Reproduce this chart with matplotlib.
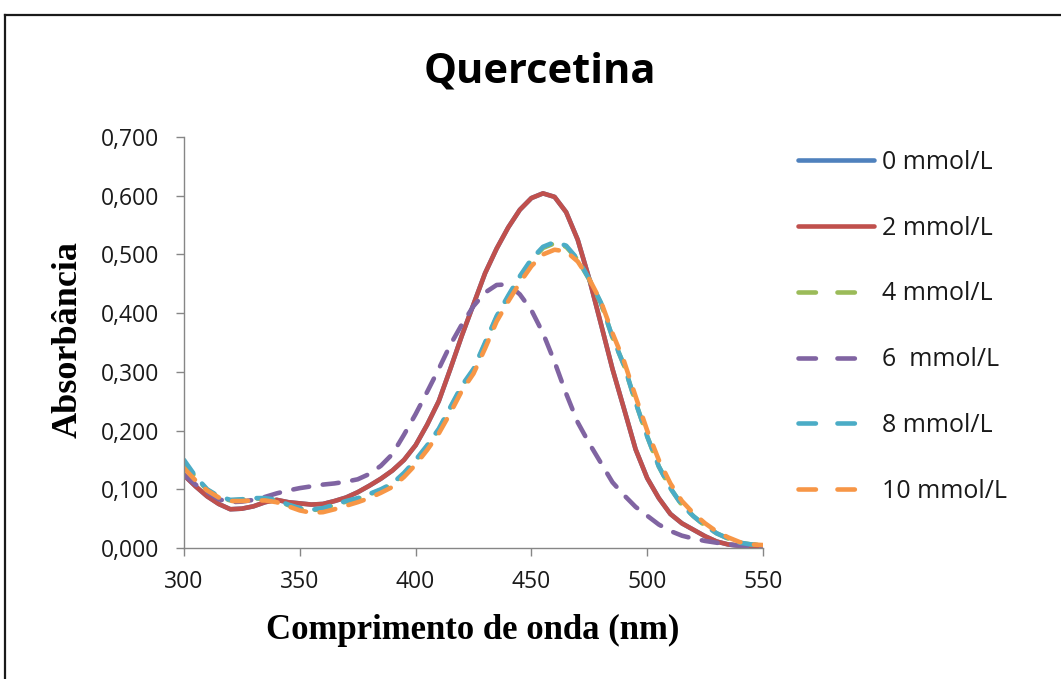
import matplotlib
matplotlib.use("Agg")
import matplotlib.pyplot as plt
from matplotlib.lines import Line2D
from matplotlib.ticker import FuncFormatter, MultipleLocator

wavelength = list(range(300, 551, 5))

abs_2 = [0.124, 0.105, 0.088, 0.075, 0.066, 0.067, 0.071, 0.078, 0.082, 0.078,
         0.076, 0.074, 0.075, 0.080, 0.086, 0.095, 0.106, 0.118, 0.132, 0.150,
         0.175, 0.210, 0.250, 0.305, 0.362, 0.415, 0.468, 0.510, 0.546, 0.576,
         0.596, 0.604, 0.598, 0.572, 0.525, 0.458, 0.382, 0.305, 0.237, 0.168,
         0.119, 0.085, 0.058, 0.042, 0.031, 0.020, 0.011, 0.006, 0.004, 0.003,
         0.003]
abs_0 = list(abs_2)

abs_6 = [0.125, 0.108, 0.095, 0.083, 0.078, 0.079, 0.082, 0.087, 0.093, 0.098,
         0.102, 0.105, 0.108, 0.110, 0.113, 0.117, 0.126, 0.140, 0.160, 0.193,
         0.228, 0.266, 0.305, 0.346, 0.381, 0.412, 0.435, 0.448, 0.449, 0.432,
         0.405, 0.366, 0.317, 0.263, 0.214, 0.178, 0.145, 0.112, 0.090, 0.070,
         0.055, 0.040, 0.029, 0.021, 0.016, 0.012, 0.009, 0.006, 0.004, 0.003,
         0.002]

abs_8 = [0.150, 0.122, 0.100, 0.088, 0.082, 0.083, 0.085, 0.085, 0.082, 0.074,
         0.068, 0.065, 0.068, 0.074, 0.080, 0.085, 0.092, 0.100, 0.110, 0.128,
         0.150, 0.175, 0.203, 0.240, 0.277, 0.305, 0.350, 0.395, 0.430, 0.463,
         0.492, 0.513, 0.521, 0.515, 0.492, 0.458, 0.418, 0.359, 0.311, 0.248,
         0.190, 0.139, 0.102, 0.073, 0.054, 0.038, 0.025, 0.016, 0.009, 0.006,
         0.005]

abs_4 = [0.147, 0.120, 0.099, 0.087, 0.081, 0.082, 0.084, 0.084, 0.081, 0.073,
         0.067, 0.064, 0.067, 0.073, 0.079, 0.084, 0.091, 0.099, 0.109, 0.126,
         0.148, 0.173, 0.201, 0.238, 0.275, 0.303, 0.348, 0.393, 0.428, 0.461,
         0.490, 0.511, 0.519, 0.513, 0.491, 0.457, 0.417, 0.359, 0.311, 0.248,
         0.190, 0.139, 0.102, 0.073, 0.054, 0.038, 0.025, 0.016, 0.009, 0.006,
         0.005]

abs_10 = [0.136, 0.115, 0.098, 0.086, 0.080, 0.080, 0.081, 0.081, 0.078, 0.071,
          0.064, 0.060, 0.061, 0.066, 0.072, 0.078, 0.085, 0.094, 0.104, 0.121,
          0.142, 0.167, 0.195, 0.230, 0.268, 0.297, 0.340, 0.386, 0.420, 0.452,
          0.480, 0.500, 0.508, 0.505, 0.488, 0.458, 0.420, 0.366, 0.318, 0.258,
          0.200, 0.150, 0.110, 0.080, 0.059, 0.042, 0.028, 0.018, 0.010, 0.006,
          0.005]

labels = ["0 mmol/L", "2 mmol/L", "4 mmol/L", "6  mmol/L", "8 mmol/L", "10 mmol/L"]
series = [abs_0, abs_2, abs_4, abs_6, abs_8, abs_10]
colors = ["#4F81BD", "#C0504D", "#9BBB59", "#8064A2", "#4BACC6", "#F79646"]
styles = ["solid", "solid", "dashed", "dashed", "dashed", "dashed"]

x_ticks = [300, 350, 400, 450, 500, 550]

W, H = 1061, 679
fig = plt.figure(figsize=(W / 100, H / 100), dpi=100)
ax = fig.add_axes([184 / W, 1 - 548 / H, (763 - 184) / W, (548 - 137) / H])

sans = ["Open Sans", "DejaVu Sans"]
serif = ["Liberation Serif", "DejaVu Serif"]

handles = []
for y, lab, c, st in zip(series, labels, colors, styles):
    if st == "solid":
        ax.plot(wavelength, y, color=c, lw=3.3, solid_capstyle="round",
                solid_joinstyle="round", label=lab)
        handles.append(Line2D([], [], color=c, lw=3.3, solid_capstyle="round"))
    else:
        ax.plot(wavelength, y, color=c, lw=3.3, dashes=(3.5, 3.0),
                dash_capstyle="round", dash_joinstyle="round", label=lab)
        handles.append(Line2D([], [], color=c, lw=3.3, dashes=(3.8, 4.7),
                              dash_capstyle="round"))

ax.set_xlim(300, 550)
ax.set_ylim(0, 0.7)
ax.set_xticks(x_ticks)
ax.yaxis.set_major_locator(MultipleLocator(0.1))
ax.yaxis.set_major_formatter(FuncFormatter(lambda v, p: f"{v:.3f}".replace(".", ",")))

for s in ["top", "right"]:
    ax.spines[s].set_visible(False)
for s in ["left", "bottom"]:
    ax.spines[s].set_color("#868686")
    ax.spines[s].set_linewidth(1.0)
ax.tick_params(axis="both", direction="out", length=6, width=1.0, color="#868686",
               labelsize=16.5, labelcolor="#1a1a1a")
ax.tick_params(axis="x", pad=10)
ax.tick_params(axis="y", pad=12)
for lbl in ax.get_xticklabels() + ax.get_yticklabels():
    lbl.set_family(sans)

fig.text(540 / W, 1 - 72 / H, "Quercetina", ha="center", va="center",
         fontsize=30, fontweight="bold", family=sans)
fig.text(473 / W, 1 - 630 / H, "Comprimento de onda (nm)", ha="center", va="center",
         fontsize=25, fontweight="bold", family=serif)
fig.text(68 / W, 1 - 340 / H, "Absorbância", ha="center", va="center",
         rotation=90, fontsize=26, fontweight="bold", family=serif)

leg = fig.legend(handles=handles, labels=labels, loc="upper left",
                 bbox_to_anchor=(798 / W, 1 - 150 / H), frameon=False,
                 borderaxespad=0, borderpad=0, handlelength=3.05, handletextpad=0.3,
                 labelspacing=1.63, prop={"family": sans, "size": 18})
for t in leg.get_texts():
    t.set_color("#1a1a1a")

# outer frame of the chart area (cropped at right and bottom)
fig.add_artist(Line2D([5 / W, 1.0], [1 - 15 / H, 1 - 15 / H], transform=fig.transFigure,
                      color="#1a1a1a", lw=1.6))
fig.add_artist(Line2D([5 / W, 5 / W], [0.0, 1 - 15 / H], transform=fig.transFigure,
                      color="#1a1a1a", lw=1.6))

fig.savefig("out.png", dpi=100)
